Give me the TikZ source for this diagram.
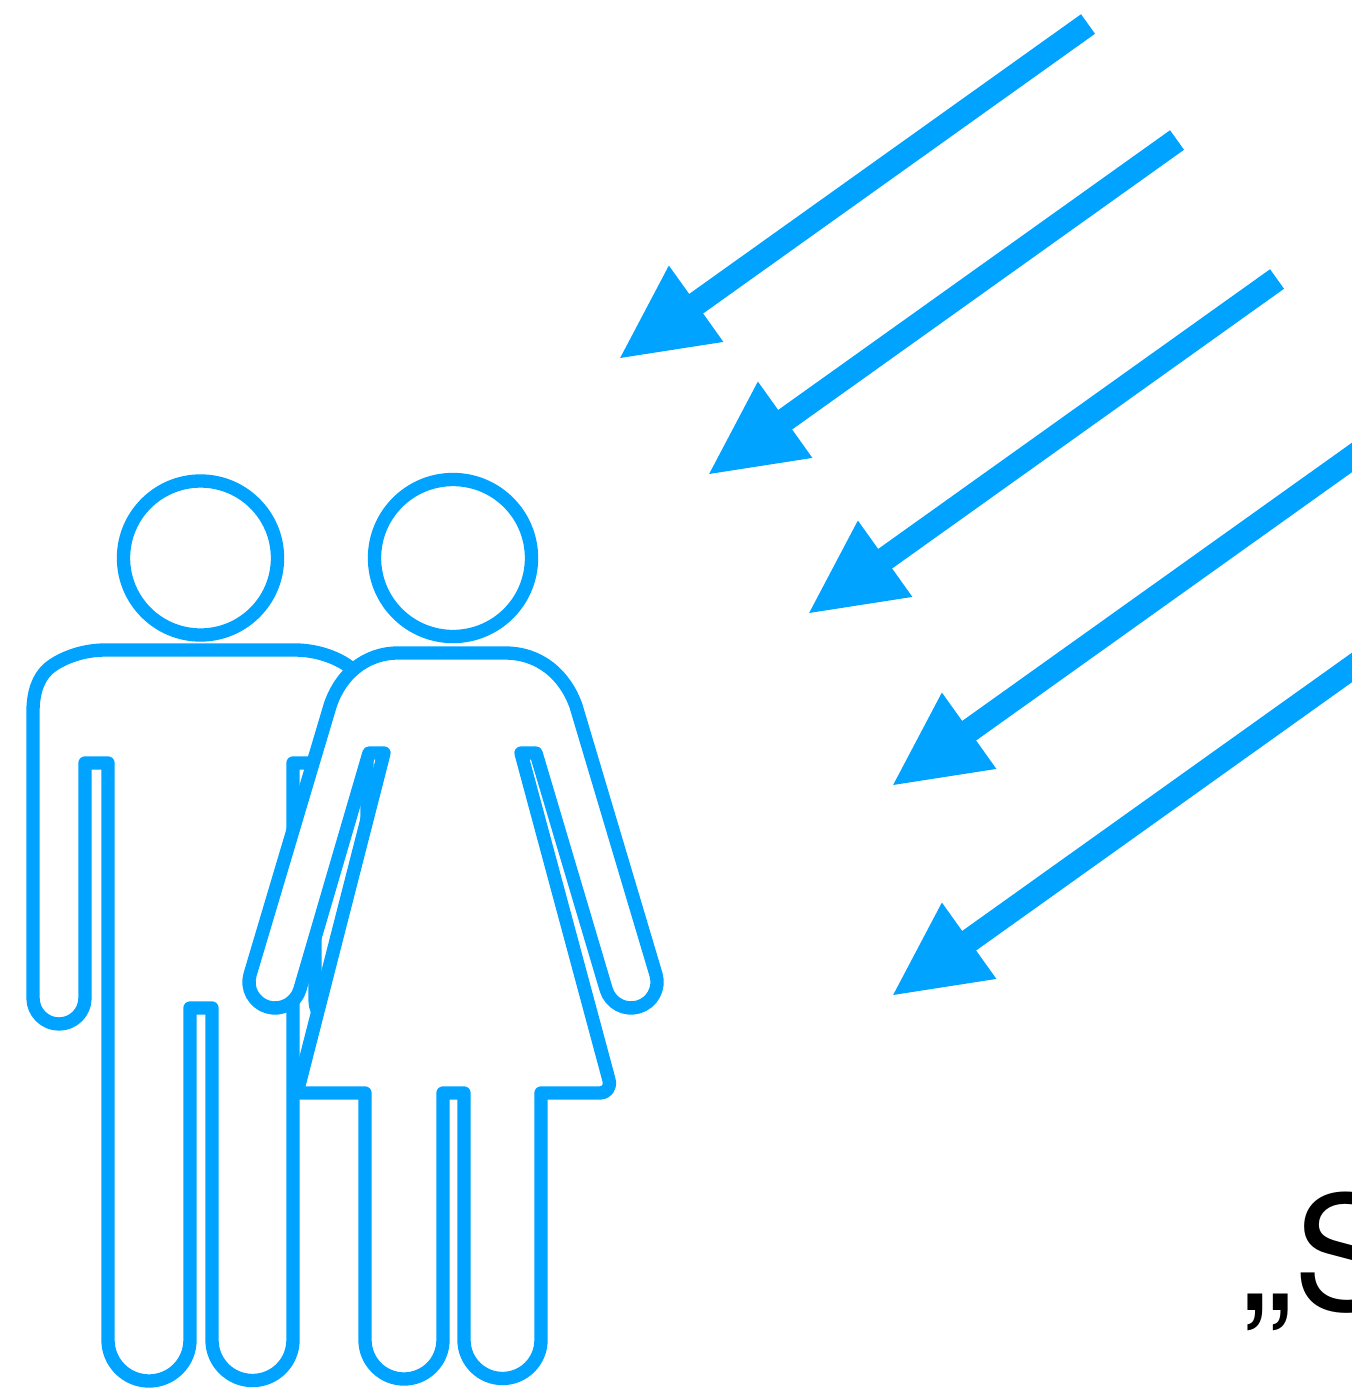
\documentclass[tikz,border=0pt]{standalone}
\usepackage{fontspec}
\setmainfont{TeX Gyre Heros}
\usetikzlibrary{arrows.meta}
\tikzset{
	person/.style={draw={rgb, 255:red, 0; green, 163; blue, 255 },fill=white,line width=10pt,line join=round},
	ray/.style={draw={rgb, 255:red, 0; green, 163; blue, 255 },line width=18pt,-{Triangle[length=72pt,width=64.5pt]}}
}
\begin{document}
\begin{tikzpicture}[x=0.75pt,y=0.75pt,yscale=-1,xscale=1]
	
	\path [use as bounding box,clip] (0,0) rectangle (1352,1392);
	
	% Shape: Mann, Kopf und Koerper
	\draw [person] (200.5,558) circle [radius=77];
	\draw [person] (33,712) -- (33,998) arc (180:0:26) -- (85,763) -- (108,763) -- (108,1340) arc (180:0:41) -- (190,1008) -- (212,1008) -- (212,1340) arc (180:0:40.5) -- (293,763) -- (315,763) -- (315,1000) arc (180:0:26) -- (367,712) .. controls (367,693) and (362,678) .. (352,669) .. controls (342,660) and (320,650) .. (295,650) -- (105,650) .. controls (80,650) and (58,660) .. (48,669) .. controls (38,678) and (33,693) .. (33,712) -- cycle ;
	
	% Shape: Frau, Kopf und Koerper
	\draw [person] (453,558) circle [radius=78.5];
	\draw [person] (398,653) -- (505,653) .. controls (540,653) and (565,675) .. (576,706) -- (656,974.6) arc (-16.5:163.5:26) -- (536,753) -- (521,753) -- (609,1080) .. controls (611,1088) and (606,1093) .. (600,1093) -- (541,1093) -- (541,1340) arc (0:180:38.5) -- (464,1093) -- (443,1093) -- (443,1340) arc (0:180:39) -- (365,1093) -- (297,1093) -- (384,753) -- (369,753) -- (299.9,989.4) arc (16.5:196.5:26) -- (330,706) .. controls (340,675) and (365,653) .. (398,653) -- cycle ;
	
	% Pfeile
	\coordinate (rayA start) at (1088,24);
	\coordinate (rayA tip) at (618,359.5);
	\coordinate (rayB start) at (1177,140);
	\coordinate (rayB tip) at (707,475.5);
	\coordinate (rayC start) at (1277,279);
	\coordinate (rayC tip) at (807,614.5);
	\coordinate (rayD start) at (1361,451);
	\coordinate (rayD tip) at (891,786.5);
	\coordinate (rayE start) at (1361,661);
	\coordinate (rayE tip) at (891,996.5);
	\draw [ray] (rayA start) -- (rayA tip);
	\draw [ray] (rayB start) -- (rayB tip);
	\draw [ray] (rayC start) -- (rayC tip);
	\draw [ray] (rayD start) -- (rayD tip);
	\draw [ray] (rayE start) -- (rayE tip);
	
	% Text box
	\node (quote) [anchor=base west,inner sep=0pt,font=\fontsize{119pt}{119pt}\selectfont] at (1240,1310) {„S};
	
\end{tikzpicture}
\end{document}
